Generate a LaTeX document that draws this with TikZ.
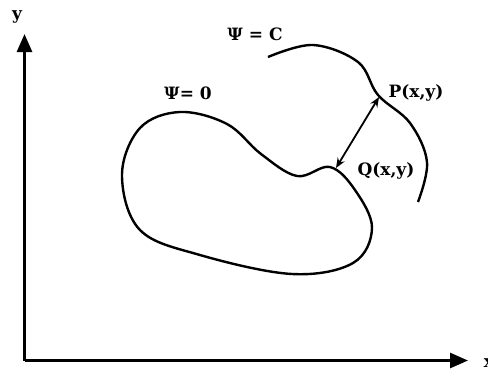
\documentclass[tikz,border=0pt]{standalone}
\usepackage{fontspec}
\setmainfont{DejaVu Serif}
\usepackage{tikz}
\usetikzlibrary{arrows.meta,positioning,calc}

\begin{document}
\begin{tikzpicture}[
    x=1pt, y=-1pt,
    axis/.style={line width=2.8pt, -{Triangle[length=18pt, width=15pt]}},
    curve/.style={line width=2.4pt, line join=round},
    gap/.style={line width=1.8pt, {Stealth[length=10pt, width=8pt]}-{Stealth[length=10pt, width=8pt]}},
    label/.style={font=\fontsize{17}{19}\selectfont\bfseries, inner sep=1pt}
]
\useasboundingbox (0,0) rectangle (488,373);

% Axes
\coordinate (O) at (24.5,360.5);
\coordinate (ytip) at (24.5,34);
\coordinate (xtip) at (468,360.5);
\draw[axis] (O) -- (ytip);
\draw[axis] (O) -- (xtip);
\node[label] (ylab) at (17,17) {y};
\node[label] (xlab) at (489,363) {x};

% Psi = 0
\draw[curve] plot[smooth cycle, tension=0.6] coordinates {
    (180,112) (227,124) (261,154) (297,176) (330,167) (355,190)
    (372,228) (353,263) (292,274) (200,255) (140,230) (122,175) (140,128)};
\coordinate (Q) at (336,168);
\node[label] (psi0) at (188,93) {Ψ= 0};
\node[label] (qlab) at (386,171) {Q(x,y)};

% Psi = C
\draw[curve] plot[smooth, tension=0.6] coordinates {
    (268,57) (313,45) (358,62) (378,95) (410,123) (427,162) (418,202)};
\coordinate (P) at (379,97);
\node[label] (psic) at (255,34) {Ψ = C};
\node[label] (plab) at (416,93) {P(x,y)};

% Distance
\draw[gap] (Q) -- (P);

\end{tikzpicture}
\end{document}
